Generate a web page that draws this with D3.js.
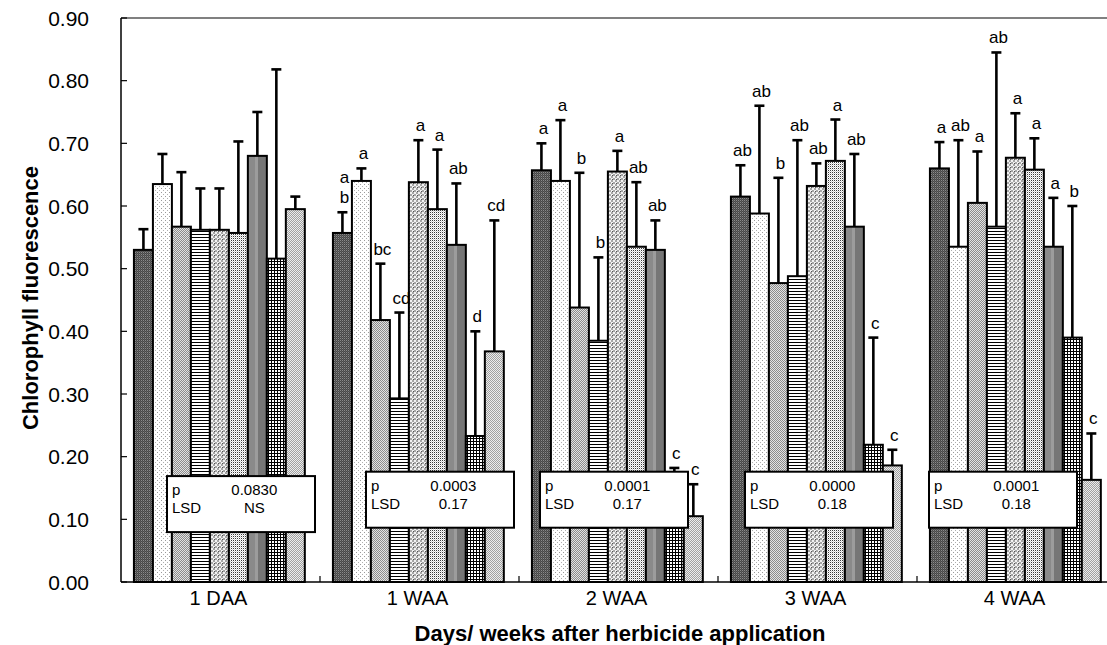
<!DOCTYPE html>
<html>
<head>
<meta charset="utf-8">
<script src="https://cdn.jsdelivr.net/npm/d3@7"></script>
<style>
  body { margin: 0; background: #fff; }
  svg { display: block; }
  text { font-family: "Liberation Sans", Arial, Helvetica, sans-serif; fill: #000; }
</style>
</head>
<body>
<svg id="chart" width="1107" height="645"></svg>
<script>
// Sampling times and the nine herbicide treatments
const periods = ["1 DAA", "1 WAA", "2 WAA", "3 WAA", "4 WAA"];
const treatments = ["T1", "T2", "T3", "T4", "T5", "T6", "T7", "T8", "T9"];

// Mean chlorophyll fluorescence per treatment
const mean1DAA = [0.530, 0.635, 0.567, 0.562, 0.562, 0.557, 0.680, 0.516, 0.595];
const mean1WAA = [0.557, 0.640, 0.418, 0.293, 0.638, 0.595, 0.538, 0.233, 0.368];
const mean2WAA = [0.657, 0.640, 0.438, 0.385, 0.655, 0.535, 0.530, 0.094, 0.105];
const mean3WAA = [0.615, 0.588, 0.477, 0.488, 0.632, 0.672, 0.567, 0.219, 0.186];
const mean4WAA = [0.660, 0.535, 0.605, 0.567, 0.677, 0.658, 0.535, 0.390, 0.163];

// Standard deviation (upper error bar)
const sd1DAA = [0.033, 0.048, 0.087, 0.066, 0.066, 0.146, 0.070, 0.302, 0.020];
const sd1WAA = [0.033, 0.020, 0.090, 0.137, 0.067, 0.095, 0.098, 0.167, 0.209];
const sd2WAA = [0.043, 0.097, 0.215, 0.133, 0.033, 0.103, 0.047, 0.088, 0.051];
const sd3WAA = [0.050, 0.172, 0.168, 0.217, 0.036, 0.066, 0.116, 0.171, 0.025];
const sd4WAA = [0.042, 0.170, 0.082, 0.278, 0.071, 0.050, 0.078, 0.210, 0.074];

// Mean separation letters ("\n" stacks two letters)
const letters1DAA = ["", "", "", "", "", "", "", "", ""];
const letters1WAA = ["a\nb", "a", "bc", "cd", "a", "a", "ab", "d", "cd"];
const letters2WAA = ["a", "a", "b", "b", "a", "ab", "ab", "c", "c"];
const letters3WAA = ["ab", "ab", "b", "ab", "ab", "a", "ab", "c", "c"];
const letters4WAA = ["a", "ab", "a", "ab", "a", "a", "a", "b", "c"];

// ANOVA summary per sampling time
const pValues = ["0.0830", "0.0003", "0.0001", "0.0000", "0.0001"];
const lsdValues = ["NS", "0.17", "0.17", "0.18", "0.18"];

const yTicks = [0, 0.1, 0.2, 0.3, 0.4, 0.5, 0.6, 0.7, 0.8, 0.9];

const means = [mean1DAA, mean1WAA, mean2WAA, mean3WAA, mean4WAA];
const sds = [sd1DAA, sd1WAA, sd2WAA, sd3WAA, sd4WAA];
const letters = [letters1DAA, letters1WAA, letters2WAA, letters3WAA, letters4WAA];

// ---- layout ----
const plot = { left: 121, top: 18, right: 1116, bottom: 582 };
// where each p/LSD box sits inside its period band (px from band start, box top value)
const boxInset = [46, 46, 21, 27, 12];
const boxTopValue = [0.169, 0.176, 0.176, 0.176, 0.176];
const boxW = 148, boxH = 56;

const svg = d3.select("#chart");

const x = d3.scaleBand().domain(periods).range([plot.left, plot.right]).padding(0);
const xi = d3.scaleBand().domain(treatments).range([0, x.bandwidth()])
  .paddingInner(0).paddingOuter(0.74).align(0.46);
const y = d3.scaleLinear().domain([0, 0.9]).range([plot.bottom, plot.top]);

// ---- fill patterns, one per treatment ----
const defs = svg.append("defs");
function pattern(id, w, h, bg, cells) {
  const p = defs.append("pattern").attr("id", id)
    .attr("patternUnits", "userSpaceOnUse").attr("width", w).attr("height", h);
  p.append("rect").attr("width", w).attr("height", h).attr("fill", bg);
  cells.forEach(c => p.append("rect").attr("x", c[0]).attr("y", c[1])
    .attr("width", c[2]).attr("height", c[3]).attr("fill", c[4]));
}
pattern("f0", 2, 2, "#474747", [[0, 0, 1, 1, "#8a8a8a"], [1, 1, 1, 1, "#5e5e5e"]]);
pattern("f1", 4, 4, "#ffffff", [[0, 0, 1, 1, "#9a9a9a"], [2, 2, 1, 1, "#b0b0b0"]]);
pattern("f2", 2, 2, "#e2e2e2", [[0, 0, 1, 1, "#8c8c8c"], [1, 1, 1, 1, "#8c8c8c"]]);
pattern("f3", 3, 3, "#ffffff", [[0, 0, 3, 1, "#000000"]]);
pattern("f4", 4, 4, "#f2f2f2", [[0, 0, 2, 2, "#a6a6a6"], [2, 2, 2, 2, "#a6a6a6"], [1, 3, 1, 1, "#555"]]);
pattern("f5", 2, 2, "#ffffff", [[0, 0, 1, 1, "#3a3a3a"], [1, 1, 1, 1, "#d0d0d0"]]);
const g7 = defs.append("linearGradient").attr("id", "f6").attr("x1", 0).attr("x2", 1).attr("y1", 0).attr("y2", 0);
[[0, "#8a8a8a"], [0.38, "#8a8a8a"], [0.38, "#9c9c9c"], [0.55, "#9c9c9c"], [0.55, "#767676"], [1, "#767676"]]
  .forEach(s => g7.append("stop").attr("offset", s[0]).attr("stop-color", s[1]));
pattern("f7", 3, 3, "#ffffff", [[0, 0, 3, 1, "#000000"], [0, 0, 1, 3, "#000000"]]);
pattern("f8", 2, 2, "#ececec", [[0, 0, 1, 1, "#a0a0a0"], [1, 1, 1, 1, "#a0a0a0"]]);

// ---- frame ----
svg.append("line").attr("x1", plot.left).attr("x2", plot.right)
  .attr("y1", plot.top).attr("y2", plot.top).attr("stroke", "#808080").attr("stroke-width", 2);

// ---- bars, error bars and letters ----
periods.forEach((p, gi) => {
  const g = svg.append("g").attr("transform", `translate(${x(p)},0)`);
  const rows = treatments.map((t, i) => ({ t, i, m: means[gi][i], sd: sds[gi][i], lab: letters[gi][i] }));

  g.selectAll("rect.bar").data(rows).join("rect").attr("class", "bar")
    .attr("x", d => xi(d.t)).attr("width", xi.bandwidth())
    .attr("y", d => y(d.m)).attr("height", d => y(0) - y(d.m))
    .attr("fill", d => d.i === 6 ? "url(#f6)" : `url(#f${d.i})`)
    .attr("stroke", "#000").attr("stroke-width", 2);

  const cx = d => xi(d.t) + xi.bandwidth() / 2;
  g.selectAll("line.err").data(rows).join("line").attr("class", "err")
    .attr("x1", cx).attr("x2", cx)
    .attr("y1", d => y(d.m)).attr("y2", d => y(d.m + d.sd))
    .attr("stroke", "#000").attr("stroke-width", 2.6);
  g.selectAll("line.cap").data(rows).join("line").attr("class", "cap")
    .attr("x1", d => cx(d) - 5).attr("x2", d => cx(d) + 5)
    .attr("y1", d => y(d.m + d.sd)).attr("y2", d => y(d.m + d.sd))
    .attr("stroke", "#000").attr("stroke-width", 2.6);

  rows.filter(d => d.lab).forEach(d => {
    const parts = d.lab.split("\n");
    parts.forEach((s, k) => {
      g.append("text").attr("x", cx(d) + 2)
        .attr("y", y(d.m + d.sd) - 9 - (parts.length - 1 - k) * 20)
        .attr("text-anchor", "middle").attr("font-size", 17).text(s);
    });
  });
});

// ---- axes ----
const axis = svg.append("g");
axis.append("line").attr("x1", plot.left).attr("x2", plot.left)
  .attr("y1", plot.top).attr("y2", plot.bottom).attr("stroke", "#000").attr("stroke-width", 1.5);
axis.append("line").attr("x1", plot.left).attr("x2", plot.right)
  .attr("y1", plot.bottom).attr("y2", plot.bottom).attr("stroke", "#000").attr("stroke-width", 1.5);

axis.selectAll("line.yt").data(yTicks).join("line").attr("class", "yt")
  .attr("x1", plot.left).attr("x2", plot.left + 6)
  .attr("y1", d => y(d)).attr("y2", d => y(d)).attr("stroke", "#000").attr("stroke-width", 1.2);
axis.selectAll("text.yl").data(yTicks).join("text").attr("class", "yl")
  .attr("x", 89).attr("y", d => y(d)).attr("dy", "0.36em")
  .attr("text-anchor", "end").attr("font-size", 21).text(d => d3.format(".2f")(d));

axis.selectAll("line.xt").data(periods.slice(1)).join("line").attr("class", "xt")
  .attr("x1", d => x(d)).attr("x2", d => x(d))
  .attr("y1", plot.bottom).attr("y2", plot.bottom - 6).attr("stroke", "#000").attr("stroke-width", 1.2);
axis.selectAll("text.xl").data(periods).join("text").attr("class", "xl")
  .attr("x", d => x(d) + x.bandwidth() / 2 - 2).attr("y", 605)
  .attr("text-anchor", "middle").attr("font-size", 20).text(d => d);

svg.append("text").attr("transform", "translate(38,298) rotate(-90)")
  .attr("text-anchor", "middle").attr("font-size", 22).attr("font-weight", "bold")
  .text("Chlorophyll fluorescence");
svg.append("text").attr("x", 620).attr("y", 641)
  .attr("text-anchor", "middle").attr("font-size", 22).attr("font-weight", "bold")
  .text("Days/ weeks after herbicide application");

// ---- p / LSD boxes ----
periods.forEach((p, gi) => {
  const bx = x(p) + boxInset[gi], by = y(boxTopValue[gi]);
  const b = svg.append("g").attr("transform", `translate(${bx},${by})`);
  b.append("rect").attr("width", boxW).attr("height", boxH)
    .attr("fill", "#fff").attr("stroke", "#000").attr("stroke-width", 2);
  b.append("text").attr("x", 5).attr("y", 19).attr("font-size", 15).text("p");
  b.append("text").attr("x", 5).attr("y", 37).attr("font-size", 15).text("LSD");
  b.append("text").attr("x", boxW * 0.59).attr("y", 19).attr("text-anchor", "middle")
    .attr("font-size", 15).text(pValues[gi]);
  b.append("text").attr("x", boxW * 0.59).attr("y", 37).attr("text-anchor", "middle")
    .attr("font-size", 15).text(lsdValues[gi]);
});
</script>
</body>
</html>
